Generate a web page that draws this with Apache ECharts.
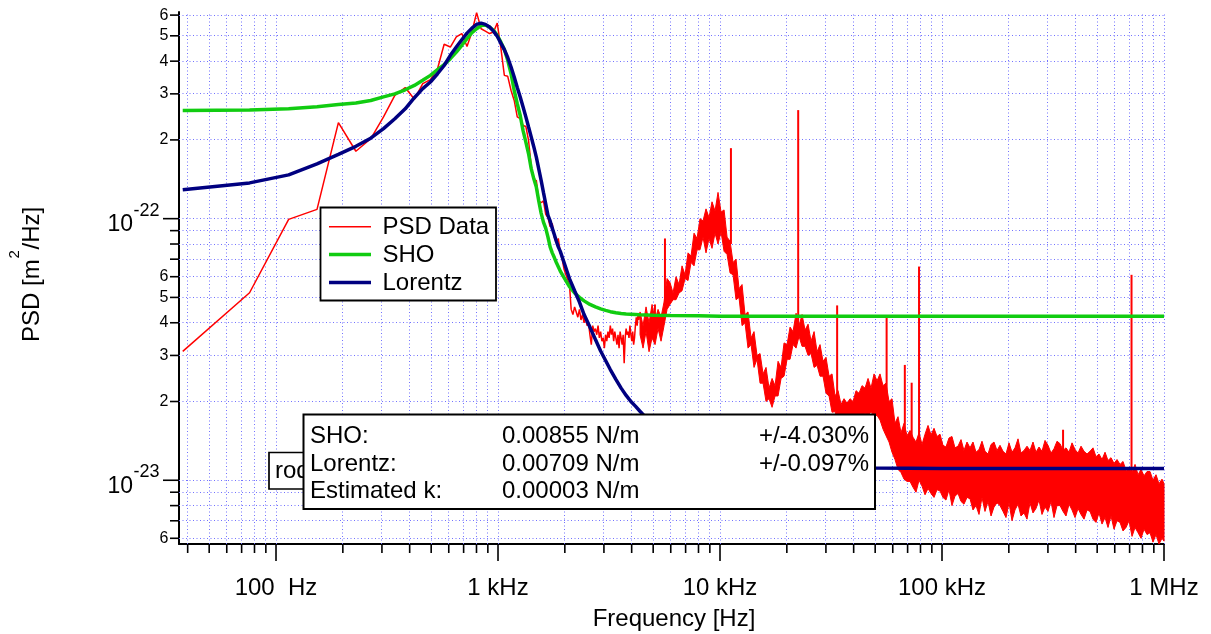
<!DOCTYPE html>
<html>
<head>
<meta charset="utf-8">
<title>PSD</title>
<script src="https://cdn.jsdelivr.net/npm/echarts@6/dist/echarts.min.js"></script>
<style>
  html, body { margin: 0; padding: 0; background: #ffffff; }
  #chart { width: 1211px; height: 634px; }
</style>
</head>
<body>
<div id="chart"></div>
<script>
// All PSD values below are in units of 1e-23 m^2/Hz.

// Measured PSD, low-frequency bins (38.15 Hz spacing)
const psdFreq = [38, 76, 114, 153, 191, 229, 267, 305, 343, 382,
  420, 458, 496, 534, 572, 610, 649, 687, 725, 763,
  801, 839, 877, 916, 954, 992, 1030, 1068, 1106, 1145,
  1183, 1221, 1259, 1297, 1335, 1373, 1412, 1450, 1488, 1526,
  1564, 1602, 1640, 1679, 1717, 1755, 1793, 1831, 1869, 1908,
  1946, 1984, 2022, 2060, 2098, 2136, 2175, 2213, 2251, 2289,
  2327, 2365, 2403, 2442, 2480, 2518, 2556, 2594, 2632, 2671,
  2709, 2747, 2785, 2823, 2861, 2899, 2938, 2976, 3014, 3052,
  3090, 3128, 3166, 3205, 3243, 3281, 3319, 3357, 3395, 3434,
  3472, 3510, 3548, 3586, 3624, 3662, 3701, 3739, 3777, 3815,
  3853, 3891, 3929, 3968, 4006, 4044, 4082, 4120, 4158, 4197,
  4235, 4273, 4311, 4349];
const psdVal = [3.11, 5.21, 9.94, 10.85, 23.3, 18.1, 20.2, 24.5, 29.6, 31.7,
  28.6, 32.8, 34.0, 37.4, 46.4, 45.3, 49.5, 51.0, 45.5, 51.7,
  61.3, 53.2, 52.1, 51.0, 51.7, 55.9, 45.0, 35.3, 35.0, 30.9,
  28.3, 24.5, 24.1, 22.7, 22.5, 19.9, 15.8, 14.0, 14.0, 11.7,
  11.5, 11.7, 10.4, 10.1, 9.3, 9.6, 8.5, 8.1, 8.4, 7.4,
  7.0, 6.4, 6.1, 6.0, 5.6, 4.5, 4.3, 4.6, 4.4, 4.2,
  4.5, 4.1, 4.3, 4.0, 4.2, 3.9, 4.0, 3.6, 3.3, 3.9,
  3.7, 3.8, 3.6, 3.9, 3.5, 3.7, 3.4, 3.5, 3.2, 3.6,
  3.4, 3.7, 3.5, 3.9, 3.6, 3.8, 3.4, 3.7, 3.5, 3.3,
  3.6, 3.2, 3.7, 3.5, 3.3, 3.6, 2.8, 3.5, 3.8, 3.6,
  3.7, 3.5, 3.9, 3.6, 3.4, 3.7, 3.3, 3.5, 3.9, 4.2,
  3.9, 4.3, 4.1, 4.3];

// Measured PSD above 4.3 kHz: lower and upper extent of the dense trace at each frequency
const bandFreq = [4363, 4501, 4643, 4790, 4942, 5098, 5259, 5425, 5597, 5774,
  5955, 6143, 6337, 6538, 6745, 6958, 7178, 7405, 7639, 7881,
  8127, 8384, 8649, 8923, 9205, 9496, 9796, 10110, 10430, 10760,
  11100, 11450, 11810, 12180, 12570, 12960, 13370, 13800, 14230, 14680,
  15150, 15630, 16120, 16630, 17160, 17700, 18260, 18840, 19430, 20050,
  20680, 21330, 22010, 22700, 23420, 24160, 24930, 25710, 26530, 27370,
  28220, 29110, 30030, 30990, 31960, 32980, 34020, 35090, 36200, 37350,
  38520, 39740, 41000, 42290, 43630, 45010, 46430, 47900, 49420, 50980,
  52570, 54230, 55950, 57720, 59540, 61420, 63370, 65370, 67440, 69570,
  71760, 74030, 76370, 78790, 81280, 83850, 86500, 89230, 92050, 94970,
  97950, 101000, 104200, 107500, 110900, 114400, 118100, 121800, 125600, 129600,
  133700, 137900, 142300, 146800, 151400, 156200, 161200, 166300, 171500, 176900,
  182500, 188300, 194200, 200400, 206700, 213200, 220000, 226900, 234100, 241500,
  249100, 257000, 265100, 273500, 282100, 291100, 300300, 309800, 319500, 329700,
  340100, 350900, 361900, 373400, 385200, 397400, 410000, 422900, 436300, 450100,
  464200, 478900, 494000, 509600, 525800, 542400, 559500, 577200, 595500, 614300,
  633800, 653800, 674500, 695900, 717800, 740500, 764000, 788100, 813000, 838800,
  864900, 892300, 920400, 949600, 979600, 1000000];
const bandHigh = [4.4, 3.9, 4.6, 4.0, 4.7, 4.1, 4.5, 4.2, 4.8, 5.9,
  5.7, 5.2, 6.0, 5.6, 6.6, 6.1, 7.4, 7.2, 8.8, 8.4,
  10.0, 9.8, 10.9, 10.1, 11.6, 10.7, 12.6, 10.6, 10.8, 8.5,
  8.2, 6.8, 7.0, 5.4, 5.6, 4.3, 4.4, 3.5, 3.7, 3.0,
  3.05, 2.55, 2.7, 2.25, 2.45, 2.3, 2.85, 2.7, 3.35, 3.3,
  3.85, 3.7, 4.35, 3.9, 4.3, 3.75, 3.95, 3.4, 3.7, 3.1,
  3.3, 2.85, 2.95, 2.5, 2.55, 2.1, 2.2, 1.95, 2.05, 1.97,
  2.05, 2.0, 2.2, 2.15, 2.3, 2.25, 2.45, 2.25, 2.55, 2.4,
  2.55, 2.3, 2.35, 2.0, 2.05, 1.65, 1.75, 1.52, 1.65, 1.48,
  1.55, 1.46, 1.40, 1.52, 1.37, 1.50, 1.62, 1.49, 1.58, 1.47,
  1.50, 1.36, 1.34, 1.45, 1.47, 1.33, 1.35, 1.43, 1.30, 1.40,
  1.33, 1.40, 1.28, 1.31, 1.41, 1.29, 1.26, 1.37, 1.40, 1.30,
  1.36, 1.29, 1.26, 1.39, 1.28, 1.33, 1.44, 1.27, 1.30, 1.35,
  1.30, 1.40, 1.28, 1.34, 1.29, 1.42, 1.36, 1.27, 1.32, 1.41,
  1.38, 1.30, 1.33, 1.28, 1.39, 1.31, 1.27, 1.35, 1.29, 1.26,
  1.29, 1.33, 1.23, 1.26, 1.20, 1.28, 1.19, 1.22, 1.16, 1.20,
  1.15, 1.18, 1.09, 1.12, 1.07, 1.15, 1.05, 1.10, 1.04, 1.08,
  1.08, 1.00, 1.05, 0.97, 1.01, 0.97];
const bandLow = [3.6, 3.2, 3.7, 3.1, 3.5, 3.3, 3.8, 3.4, 3.9, 4.5,
  4.7, 4.9, 4.9, 5.2, 5.3, 5.9, 5.8, 6.8, 6.6, 7.6,
  7.6, 8.5, 7.4, 8.4, 7.7, 8.8, 8.0, 8.9, 7.5, 7.3,
  6.2, 6.1, 4.9, 5.0, 3.9, 4.0, 3.2, 3.3, 2.7, 2.9,
  2.35, 2.35, 2.0, 2.05, 1.9, 2.1, 2.1, 2.45, 2.5, 2.9,
  2.9, 3.3, 3.2, 3.55, 3.25, 3.25, 3.0, 3.05, 2.7, 2.75,
  2.5, 2.5, 2.15, 2.1, 1.82, 1.83, 1.66, 1.66, 1.56, 1.62,
  1.62, 1.7, 1.68, 1.74, 1.73, 1.8, 1.78, 1.82, 1.76, 1.77,
  1.7, 1.57, 1.48, 1.4, 1.28, 1.2, 1.1, 1.07, 1.01, 0.99,
  0.99, 0.94, 0.90, 1.0, 0.95, 0.88, 0.93, 0.89, 0.86, 0.92,
  0.91, 0.86, 0.84, 0.92, 0.80, 0.87, 0.89, 0.83, 0.81, 0.86,
  0.85, 0.77, 0.80, 0.74, 0.86, 0.76, 0.83, 0.73, 0.79, 0.82,
  0.80, 0.76, 0.72, 0.82, 0.70, 0.77, 0.81, 0.73, 0.75, 0.71,
  0.82, 0.75, 0.78, 0.84, 0.74, 0.79, 0.76, 0.83, 0.72, 0.80,
  0.80, 0.76, 0.73, 0.81, 0.77, 0.72, 0.78, 0.74, 0.71, 0.77,
  0.76, 0.71, 0.69, 0.75, 0.68, 0.72, 0.66, 0.73, 0.65, 0.70,
  0.69, 0.64, 0.66, 0.70, 0.61, 0.66, 0.63, 0.60, 0.65, 0.62,
  0.63, 0.58, 0.62, 0.57, 0.60, 0.585];

// Narrow spectral lines standing out of the noise
const spikeFreq = [5093, 5650, 11200, 22500, 33700, 56300, 68000, 73000, 78800, 351000, 714000];
const spikeTop  = [4.7, 8.4, 18.6, 26.0, 4.66, 4.17, 2.76, 2.36, 6.56, 1.56, 6.1];
const spikeBase = [4.0, 4.5, 8.0, 3.5, 2.0, 2.0, 1.3, 1.2, 1.2, 1.0, 0.9];

// Fitted models
const fitFreq = [38, 76, 114, 153, 191, 229, 267, 305, 343, 382,
  420, 458, 496, 534, 572, 610, 649, 687, 725, 763,
  801, 839, 877, 916, 954, 992, 1030, 1068, 1106, 1145,
  1183, 1221, 1259, 1297, 1335, 1373, 1412, 1450, 1488, 1526,
  1564, 1602, 1640, 1679, 1717, 1755, 1793, 1831, 1869, 1908,
  1984, 2098, 2213, 2327, 2442, 2594, 2747, 2899, 3052, 3205,
  3395, 3586, 3777, 3968, 4158, 4349, 5000, 6000, 8000, 10000,
  15000, 20000, 30000, 50000, 100000, 1000000];
const shoVal = [25.9, 26.0, 26.3, 26.8, 27.3, 27.7, 28.3, 29.2, 30.0, 31.1,
  32.3, 33.8, 35.3, 37.1, 38.8, 40.9, 43.3, 46.0, 48.8, 51.4,
  53.2, 54.7, 55.0, 54.0, 52.5, 50.2, 47.3, 44.3, 40.3, 35.8,
  30.9, 27.5, 24.8, 21.7, 19.6, 17.7, 15.5, 14.2, 13.2, 11.7,
  10.5, 9.7, 9.2, 8.5, 7.8, 7.4, 7.1, 6.8, 6.55, 6.3,
  5.95, 5.5, 5.2, 5.0, 4.85, 4.7, 4.6, 4.52, 4.46, 4.41,
  4.37, 4.34, 4.32, 4.31, 4.30, 4.29, 4.27, 4.26, 4.25, 4.24,
  4.24, 4.24, 4.24, 4.24, 4.24, 4.24];
const lorentzVal = [12.9, 13.7, 14.7, 16.2, 17.6, 18.9, 20.3, 22.1, 24.1, 26.3,
  29.0, 31.4, 33.3, 35.8, 38.5, 42.1, 45.3, 48.3, 51.2, 53.5,
  55.3, 55.9, 55.3, 54.0, 52.1, 49.8, 46.9, 44.3, 41.3, 38.0,
  34.8, 31.7, 29.2, 26.7, 24.5, 22.4, 20.5, 18.8, 17.2, 15.5,
  14.0, 12.6, 11.4, 10.3, 9.8, 9.2, 8.7, 8.2, 7.8, 7.5,
  6.8, 5.9, 5.3, 4.8, 4.3, 3.85, 3.45, 3.12, 2.87, 2.65,
  2.43, 2.25, 2.11, 2.0, 1.92, 1.84, 1.62, 1.45, 1.28, 1.21,
  1.15, 1.13, 1.12, 1.115, 1.11, 1.11];

// Axis ticks and labels
const xMajor = [100, 1000, 10000, 100000, 1000000];
const xMinor = [40, 50, 60, 70, 80, 90,
  200, 300, 400, 500, 600, 700, 800, 900,
  2000, 3000, 4000, 5000, 6000, 7000, 8000, 9000,
  20000, 30000, 40000, 50000, 60000, 70000, 80000, 90000,
  200000, 300000, 400000, 500000, 600000, 700000, 800000, 900000];
const xTickLabels = ['100  Hz', '1 kHz', '10 kHz', '100 kHz', '1 MHz'];
const yMajor = [1, 10];
const yMajorExp = ['-23', '-22'];
const yMinor = [0.6, 0.7, 0.8, 0.9, 2, 3, 4, 5, 6, 7, 8, 9, 20, 30, 40, 50, 60];
const yLabelVals = [0.6, 2, 3, 4, 5, 6, 20, 30, 40, 50, 60];
const yLabelText = ['6', '2', '3', '4', '5', '6', '2', '3', '4', '5', '6'];

// Fit results table
const fitNames = ['SHO:', 'Lorentz:', 'Estimated k:'];
const fitStiffness = ['0.00855 N/m', '0.00709 N/m', '0.00003 N/m'];
const fitError = ['+/-4.030%', '+/-0.097%', ''];

const seriesNames = ['PSD Data', 'SHO', 'Lorentz'];

// ---- styling ----
const X_MIN = 36.56, X_MAX = 1e6, Y_MIN = 0.5706, Y_MAX = 61.66;
const FONT = '"Liberation Sans", Arial, Helvetica, sans-serif';
const RED = '#ff0000', GREEN = '#11cc11', NAVY = '#000080';
const GRID_COLOR = '#7272ff';

function crisp(v) { return Math.round(v - 0.5) + 0.5; }

function textEl(x, y, text, size, align, vAlign, z) {
  const el = {
    type: 'text', x: x, y: y,
    style: {
      text: text, font: size + 'px ' + FONT, fill: '#000',
      align: align, verticalAlign: vAlign,
      textAlign: align, textVerticalAlign: vAlign
    }
  };
  if (z !== undefined) el.z = z;
  return el;
}

const chart = echarts.init(document.getElementById('chart'), null, { renderer: 'canvas', width: 1211, height: 634 });

const axisCommon = {
  type: 'log', logBase: 10,
  axisLine: { show: true, onZero: false, lineStyle: { color: '#000', width: 2 } },
  axisTick: { show: false },
  axisLabel: { show: false },
  splitLine: { show: false },
  minorTick: { show: false },
  minorSplitLine: { show: false }
};

const gridLineStyle = { stroke: GRID_COLOR, lineWidth: 1, lineDash: [1, 2.5] };

const option = {
  animation: false,
  backgroundColor: '#ffffff',
  grid: { left: 179, top: 12, right: 47, bottom: 90, containLabel: false, outerBoundsMode: 'none' },
  xAxis: Object.assign({}, axisCommon, { min: X_MIN, max: X_MAX }),
  yAxis: Object.assign({}, axisCommon, { min: Y_MIN, max: Y_MAX }),
  series: [
    // dotted vertical grid
    {
      type: 'custom', name: 'xGrid', silent: true, z: 1,
      data: xMajor.concat(xMinor).map(v => [v, Y_MIN]),
      renderItem: function (params, api) {
        const a = api.coord([api.value(0), Y_MIN]);
        const b = api.coord([api.value(0), Y_MAX]);
        const x = crisp(a[0]);
        return { type: 'line', shape: { x1: x, y1: a[1], x2: x, y2: b[1] }, style: gridLineStyle };
      }
    },
    // dotted horizontal grid
    {
      type: 'custom', name: 'yGrid', silent: true, z: 1,
      data: yMajor.concat(yMinor).map(v => [X_MIN, v]),
      renderItem: function (params, api) {
        const a = api.coord([X_MIN, api.value(1)]);
        const b = api.coord([X_MAX, api.value(1)]);
        const y = crisp(a[1]);
        return { type: 'line', shape: { x1: a[0], y1: y, x2: b[0], y2: y }, style: gridLineStyle };
      }
    },
    // measured PSD (resolved bins)
    {
      type: 'line', name: seriesNames[0], silent: true, z: 2,
      data: psdFreq.map((f, i) => [f, psdVal[i]]),
      symbol: 'none', showSymbol: false,
      lineStyle: { color: RED, width: 1.5 },
      emphasis: { disabled: true }
    },
    // measured PSD (dense region)
    {
      type: 'custom', name: 'PSD dense', silent: true, z: 2,
      data: [[bandFreq[0], bandLow[0]]],
      renderItem: function (params, api) {
        const pts = [];
        for (let i = 0; i < bandFreq.length; i++) pts.push(api.coord([bandFreq[i], bandHigh[i]]));
        for (let i = bandFreq.length - 1; i >= 0; i--) pts.push(api.coord([bandFreq[i], bandLow[i]]));
        return { type: 'polygon', shape: { points: pts },
          style: { fill: RED, stroke: RED, lineWidth: 1, lineJoin: 'miter', miterLimit: 4 } };
      }
    },
    // narrow lines
    {
      type: 'custom', name: 'PSD lines', silent: true, z: 2,
      data: spikeFreq.map((f, i) => [f, spikeTop[i], spikeBase[i]]),
      renderItem: function (params, api) {
        const top = api.coord([api.value(0), api.value(1)]);
        const base = api.coord([api.value(0), api.value(2)]);
        return { type: 'line', shape: { x1: top[0], y1: top[1], x2: base[0], y2: base[1] },
          style: { stroke: RED, lineWidth: 2 } };
      }
    },
    {
      type: 'line', name: seriesNames[1], silent: true, z: 3,
      data: fitFreq.map((f, i) => [f, shoVal[i]]),
      symbol: 'none', showSymbol: false,
      lineStyle: { color: GREEN, width: 3.5 },
      emphasis: { disabled: true }
    },
    {
      type: 'line', name: seriesNames[2], silent: true, z: 4,
      data: fitFreq.map((f, i) => [f, lorentzVal[i]]),
      symbol: 'none', showSymbol: false,
      lineStyle: { color: NAVY, width: 3.5 },
      emphasis: { disabled: true }
    },
    // x ticks
    {
      type: 'custom', name: 'xTicks', silent: true, z: 5, clip: false,
      data: xMajor.map(v => [v, Y_MIN, 1]).concat(xMinor.map(v => [v, Y_MIN, 0])),
      renderItem: function (params, api) {
        const p = api.coord([api.value(0), Y_MIN]);
        const len = api.value(2) === 1 ? 17 : 9;
        return { type: 'line', shape: { x1: p[0], y1: p[1], x2: p[0], y2: p[1] + len },
          style: { stroke: '#000', lineWidth: 1.6 } };
      }
    },
    // x labels
    {
      type: 'custom', name: 'xLabels', silent: true, z: 5, clip: false,
      data: xMajor.map((v, i) => [v, Y_MIN, i]),
      renderItem: function (params, api) {
        const p = api.coord([api.value(0), Y_MIN]);
        return textEl(p[0], p[1] + 44, xTickLabels[api.value(2)], 24, 'center', 'middle');
      }
    },
    // y ticks
    {
      type: 'custom', name: 'yTicks', silent: true, z: 5, clip: false,
      data: yMajor.map(v => [X_MIN, v, 1]).concat(yMinor.map(v => [X_MIN, v, 0])),
      renderItem: function (params, api) {
        const p = api.coord([X_MIN, api.value(1)]);
        const len = api.value(2) === 1 ? 16 : 9;
        return { type: 'line', shape: { x1: p[0], y1: p[1], x2: p[0] - len, y2: p[1] },
          style: { stroke: '#000', lineWidth: 1.6 } };
      }
    },
    // y mantissa labels
    {
      type: 'custom', name: 'yLabels', silent: true, z: 5, clip: false,
      data: yLabelVals.map((v, i) => [X_MIN, v, i]),
      renderItem: function (params, api) {
        const p = api.coord([X_MIN, api.value(1)]);
        return textEl(p[0] - 10.5, p[1], yLabelText[api.value(2)], 16, 'right', 'middle');
      }
    },
    // y decade labels
    {
      type: 'custom', name: 'yDecades', silent: true, z: 5, clip: false,
      data: yMajor.map((v, i) => [X_MIN, v, i]),
      renderItem: function (params, api) {
        const p = api.coord([X_MIN, api.value(1)]);
        return { type: 'group', children: [
          textEl(p[0] - 46, p[1] + 6, '10', 23, 'right', 'middle'),
          textEl(p[0] - 45.5, p[1] - 8, yMajorExp[api.value(2)], 18, 'left', 'middle')
        ] };
      }
    }
  ],
  graphic: { elements: [] }
};

// legend
const legendColors = [RED, GREEN, NAVY];
const legendWidths = [1.5, 3.5, 3.5];
const g = option.graphic.elements;
g.push({ type: 'rect', z: 100, shape: { x: 320.5, y: 207.5, width: 175.5, height: 93 },
  style: { fill: '#fff', stroke: '#000', lineWidth: 1.8 } });
seriesNames.forEach((name, i) => {
  const y = 226.8 + i * 27.8;
  g.push({ type: 'line', z: 101, shape: { x1: 329, y1: y, x2: 371, y2: y },
    style: { stroke: legendColors[i], lineWidth: legendWidths[i] } });
  g.push(textEl(382.5, y + 0.5, name, 24, 'left', 'middle', 101));
});

// partially hidden annotation box
g.push({ type: 'rect', z: 100, shape: { x: 269, y: 452.5, width: 60, height: 36.5 },
  style: { fill: '#fff', stroke: '#000', lineWidth: 1.7 } });
g.push(textEl(275, 471, 'rod', 24, 'left', 'middle', 101));

// fit results table
g.push({ type: 'rect', z: 102, shape: { x: 303.5, y: 414.5, width: 571.5, height: 94.5 },
  style: { fill: '#fff', stroke: '#000', lineWidth: 2 } });
fitNames.forEach((name, i) => {
  const y = 436.5 + i * 27.5;
  g.push(textEl(310, y, name, 24, 'left', 'middle', 103));
  g.push(textEl(502, y, fitStiffness[i], 24, 'left', 'middle', 103));
  if (fitError[i]) g.push(textEl(869, y, fitError[i], 24, 'right', 'middle', 103));
});

// axis titles
g.push(textEl(674, 619, 'Frequency [Hz]', 24, 'center', 'middle', 100));
g.push({ type: 'group', x: 32, y: 342, rotation: Math.PI / 2, z: 100, children: [
  textEl(0, 0, 'PSD [m', 24, 'left', 'middle'),
  textEl(83.5, -17, '2', 15, 'left', 'middle'),
  textEl(92.5, 0, '/Hz]', 24, 'left', 'middle')
] });

chart.setOption(option);
</script>
</body>
</html>
